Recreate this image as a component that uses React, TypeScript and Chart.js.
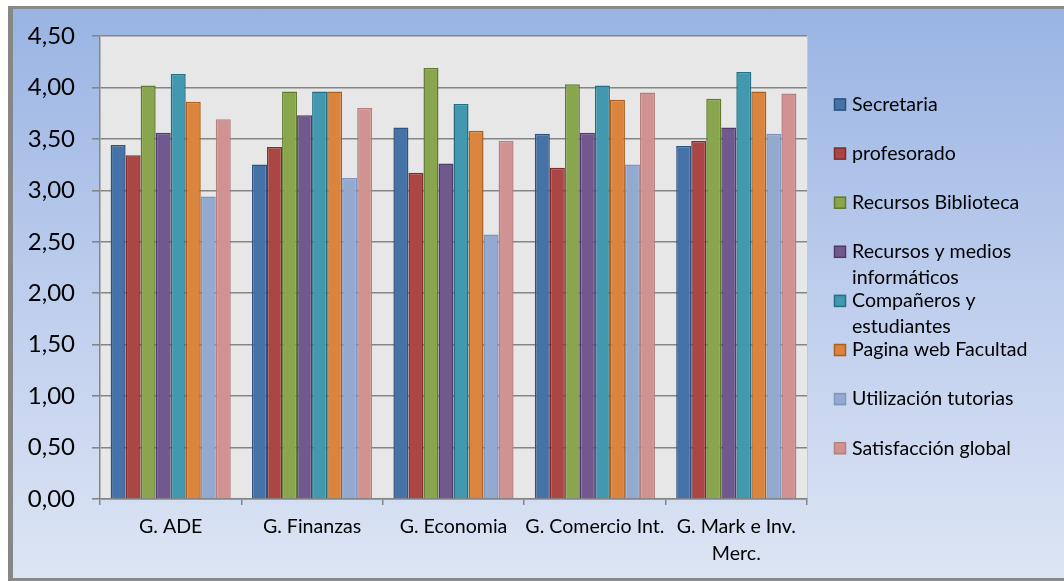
import React, { useEffect, useRef } from "react";
import { Chart, registerables } from "chart.js";

Chart.register(...registerables);

const categories: (string | string[])[] = [
  "G. ADE",
  "G. Finanzas",
  "G. Economia",
  "G. Comercio Int.",
  ["G. Mark e Inv.", "Merc."],
];

const seriesNames = [
  "Secretaria",
  "profesorado",
  "Recursos Biblioteca",
  "Recursos y medios informáticos",
  "Compañeros y estudiantes",
  "Pagina web Facultad",
  "Utilización tutorias",
  "Satisfacción global",
];

const secretaria = [3.44, 3.25, 3.61, 3.55, 3.43];
const profesorado = [3.34, 3.42, 3.17, 3.22, 3.48];
const recursosBiblioteca = [4.02, 3.96, 4.19, 4.03, 3.89];
const recursosMedios = [3.56, 3.73, 3.26, 3.56, 3.61];
const companeros = [4.13, 3.96, 3.84, 4.02, 4.15];
const paginaWeb = [3.86, 3.96, 3.58, 3.88, 3.96];
const tutorias = [2.94, 3.12, 2.57, 3.25, 3.55];
const satisfaccion = [3.69, 3.8, 3.48, 3.95, 3.94];

const seriesValues = [
  secretaria,
  profesorado,
  recursosBiblioteca,
  recursosMedios,
  companeros,
  paginaWeb,
  tutorias,
  satisfaccion,
];

const fillColors = [
  "#4572a7",
  "#aa4643",
  "#89a54e",
  "#71588f",
  "#4198af",
  "#db843d",
  "#93a9cf",
  "#d19392",
];
const borderColors = [
  "#2e5380",
  "#7e2f2c",
  "#617a32",
  "#4f3c68",
  "#256f83",
  "#a9601f",
  "#8096bd",
  "#b58180",
];

const FONT = "Lato, 'Open Sans', sans-serif";

const plotBg = {
  id: "plotBg",
  beforeDraw(chart: any) {
    const { ctx, chartArea } = chart;
    ctx.save();
    ctx.fillStyle = "#e7e7e7";
    ctx.fillRect(
      chartArea.left,
      chartArea.top,
      chartArea.right - chartArea.left,
      chartArea.bottom - chartArea.top
    );
    ctx.strokeStyle = "#c8c8c8";
    ctx.lineWidth = 1;
    ctx.beginPath();
    ctx.moveTo(chartArea.right + 0.5, chartArea.top);
    ctx.lineTo(chartArea.right + 0.5, chartArea.bottom);
    ctx.stroke();
    ctx.restore();
  },
};

const sideLegend = {
  id: "sideLegend",
  afterDraw(chart: any) {
    const { ctx } = chart;
    ctx.save();
    ctx.font = `19.6px ${FONT}`;
    ctx.textBaseline = "middle";
    ctx.textAlign = "left";
    const maxW = 188;
    chart.data.datasets.forEach((ds: any, i: number) => {
      const y0 = 95.5 + 49.1 * i;
      ctx.fillStyle = ds.backgroundColor;
      ctx.fillRect(821, y0 - 6, 12, 12);
      ctx.strokeStyle = ds.borderColor;
      ctx.lineWidth = 1.5;
      ctx.strokeRect(821.5, y0 - 5.5, 11, 11);
      const words = String(ds.label).split(" ");
      const lines: string[] = [];
      let cur = "";
      words.forEach((w) => {
        const t = cur ? cur + " " + w : w;
        if (ctx.measureText(t).width > maxW && cur) {
          lines.push(cur);
          cur = w;
        } else cur = t;
      });
      if (cur) lines.push(cur);
      ctx.fillStyle = "#000";
      lines.forEach((l, k) => ctx.fillText(l, 839, y0 + k * 26));
    });
    ctx.restore();
  },
};

export default function App() {
  const ref = useRef<HTMLCanvasElement | null>(null);
  useEffect(() => {
    if (!ref.current) return;
    const chart = new Chart(ref.current, {
      type: "bar",
      data: {
        labels: categories as any,
        datasets: seriesNames.map((name, i) => ({
          label: name,
          data: seriesValues[i],
          backgroundColor: fillColors[i],
          borderColor: borderColors[i],
          borderWidth: 1.5,
          barPercentage: 1,
          categoryPercentage: 0.85,
        })),
      },
      options: {
        responsive: false,
        animation: false,
        devicePixelRatio: 1,
        layout: { padding: { top: 27, right: 257, left: 0, bottom: 0 } },
        plugins: {
          legend: { display: false },
          tooltip: { enabled: false },
        },
        scales: {
          x: {
            offset: true,
            grid: {
              offset: true,
              drawOnChartArea: false,
              drawTicks: true,
              tickLength: 6,
              color: "#858585",
              lineWidth: 1.5,
            },
            border: { color: "#858585", width: 1.5 },
            ticks: {
              color: "#000",
              font: { family: FONT, size: 19.6, lineHeight: 1.38 },
              padding: 8,
              maxRotation: 0,
              autoSkip: false,
            },
            afterFit: (s: any) => {
              s.height = 79;
            },
          },
          y: {
            min: 0,
            max: 4.5,
            ticks: {
              stepSize: 0.5,
              color: "#000",
              font: { family: FONT, size: 24, lineHeight: 0.8 },
              padding: 17,
              callback: (v: any) => Number(v).toFixed(2).replace(".", ","),
            },
            grid: {
              color: "#858585",
              lineWidth: 1.6,
              tickLength: 8,
            },
            border: { color: "#858585", width: 1.5 },
            afterFit: (s: any) => {
              s.width = 87;
            },
          },
        },
      },
      plugins: [plotBg, sideLegend],
    });
    return () => chart.destroy();
  }, []);

  return (
    <div
      style={{
        position: "fixed",
        left: 8,
        top: 6,
        width: 1064,
        height: 575,
        boxSizing: "border-box",
        borderLeft: "5px solid #878787",
        borderTop: "3px solid #8a8a8a",
        borderBottom: "3px solid #8a8a8a",
        background: "linear-gradient(to bottom, #99b4e3 0%, #bacbec 45%, #dde5f4 100%)",
        overflow: "hidden",
      }}
    >
      <canvas ref={ref} width={1051} height={569} style={{ display: "block" }} />
    </div>
  );
}
